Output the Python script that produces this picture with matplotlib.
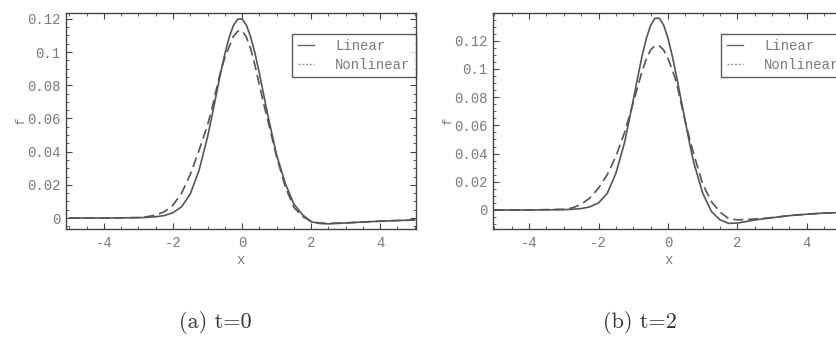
import numpy as np
import matplotlib.pyplot as plt
from matplotlib.lines import Line2D
from matplotlib.ticker import MultipleLocator

# sample positions along x (finer near the peaks)
x = [-5.0, -4.0, -3.0, -2.75, -2.5, -2.25, -2.0, -1.75, -1.5, -1.25, -1.0,
     -0.875, -0.75, -0.625, -0.5, -0.375, -0.25, -0.125, 0.0, 0.125, 0.25,
     0.375, 0.5, 0.625, 0.75, 1.0, 1.25, 1.5, 1.75, 2.0, 2.25, 2.5, 3.0,
     3.5, 4.0, 4.5, 5.0]

# (a) t=0
linA = [0.0, 0.0, 0.0002, 0.0004, 0.0008, 0.0015, 0.0032, 0.0068, 0.0145,
        0.0284, 0.0488, 0.0611, 0.0740, 0.0869, 0.0987, 0.1087, 0.1160,
        0.1198, 0.1199, 0.1162, 0.1091, 0.0992, 0.0874, 0.0745, 0.0616,
        0.0382, 0.0210, 0.0085, 0.0020, -0.0022, -0.0033, -0.0035, -0.0030,
        -0.0024, -0.0019, -0.0015, -0.0012]
nonA = [0.0, 0.0, 0.0003, 0.0008, 0.0018, 0.0038, 0.0078, 0.0150, 0.0262,
        0.0405, 0.0560, 0.0655, 0.0770, 0.0880, 0.0965, 0.1030, 0.1095,
        0.1125, 0.1128, 0.1090, 0.1020, 0.0920, 0.0805, 0.0690, 0.0585,
        0.0370, 0.0190, 0.0065, 0.0010, -0.0020, -0.0030, -0.0032, -0.0029,
        -0.0024, -0.0019, -0.0015, -0.0012]

# (b) t=2
linB = [0.0, 0.0, 0.0002, 0.0005, 0.0010, 0.0022, 0.0050, 0.0117, 0.0260,
        0.0478, 0.0778, 0.0936, 0.1087, 0.1215, 0.1309, 0.1359, 0.1360,
        0.1312, 0.1219, 0.1092, 0.0943, 0.0784, 0.0629, 0.0470, 0.0330,
        0.0120, -0.0010, -0.0070, -0.0095, -0.0093, -0.0082, -0.0071,
        -0.0055, -0.0040, -0.0030, -0.0022, -0.0018]
nonB = [0.0, 0.0, 0.0005, 0.0015, 0.0040, 0.0085, 0.0155, 0.0250, 0.0380,
        0.0550, 0.0760, 0.0870, 0.0980, 0.1070, 0.1135, 0.1165, 0.1165,
        0.1135, 0.1075, 0.0995, 0.0900, 0.0760, 0.0625, 0.0505, 0.0390,
        0.0185, 0.0060, -0.0015, -0.0062, -0.0070, -0.0068, -0.0064,
        -0.0054, -0.0040, -0.0030, -0.0022, -0.0018]

labels = ["Linear", "Nonlinear"]
captions = ["(a) t=0", "(b) t=2"]
yticksA = [0, 0.02, 0.04, 0.06, 0.08, 0.1, 0.12]
ytickLabels = ["0", "0.02", "0.04", "0.06", "0.08", "0.1", "0.12"]
xticks = [-4, -2, 0, 2, 4]

mono = "Liberation Mono"
grey = "#7a7a7a"
lineCol = "#555555"
frameCol = "#444444"

fig = plt.figure(figsize=(8.36, 3.38), dpi=100)
fig.patch.set_facecolor("white")

W, H = 836.0, 338.0
axA = fig.add_axes([66 / W, (H - 229) / H, 350 / W, 216 / H])
axB = fig.add_axes([493 / W, (H - 229) / H, 352 / W, 216 / H])

panels = [
    (axA, linA, nonA, (-5.1, 5.04), (-0.0066, 0.1235)),
    (axB, linB, nonB, (-5.04, 5.1), (-0.0135, 0.1397)),
]

for ax, lin, non, xl, yl in panels:
    ax.plot(x, lin, color=lineCol, lw=1.2)
    ax.plot(x, non, color=lineCol, lw=1.2, dashes=(6, 3))
    ax.set_xlim(*xl)
    ax.set_ylim(*yl)
    ax.set_xticks(xticks)
    ax.set_xticklabels([str(t) for t in xticks])
    ax.set_yticks(yticksA)
    ax.set_yticklabels(ytickLabels)
    ax.xaxis.set_minor_locator(MultipleLocator(0.5))
    ax.yaxis.set_minor_locator(MultipleLocator(0.005))
    ax.tick_params(which="both", direction="in", top=True, right=True,
                   color=frameCol, labelcolor=grey, labelsize=10)
    ax.tick_params(which="major", length=4, width=0.8)
    ax.tick_params(which="minor", length=2, width=0.6)
    ax.tick_params(axis="x", pad=5)
    ax.tick_params(axis="y", pad=4)
    for lab in ax.get_xticklabels() + ax.get_yticklabels():
        lab.set_fontfamily(mono)
    for sp in ax.spines.values():
        sp.set_color(frameCol)
        sp.set_linewidth(1.0)
    ax.set_xlabel("x", fontfamily=mono, fontsize=10, color=grey, labelpad=2)
    ax.set_ylabel("f", fontfamily=mono, fontsize=9, color=grey, labelpad=0)

    # legend handles: the nonlinear key is drawn with short light dashes
    handles = [Line2D([], [], color="#666666", lw=1.0),
               Line2D([], [], color="#999999", lw=1.0, dashes=(1.5, 1.2))]
    leg = ax.legend(handles, labels, loc="upper right",
                    bbox_to_anchor=(1.0, 0.905),
                    prop={"family": mono, "size": 10}, frameon=True,
                    fancybox=False, handlelength=1.2, handletextpad=1.5,
                    labelspacing=0.35, borderpad=0.4, borderaxespad=0.0)
    leg.get_frame().set_edgecolor("#333333")
    leg.get_frame().set_linewidth(1.0)
    for t in leg.get_texts():
        t.set_color(grey)

fig.text(215 / W, 1 - 322 / H, captions[0], fontfamily="cmr10", fontsize=16,
         ha="center", va="center", color="#333333")
fig.text(640 / W, 1 - 322 / H, captions[1], fontfamily="cmr10", fontsize=16,
         ha="center", va="center", color="#333333")

fig.savefig("out.png", dpi=100, facecolor="white")
